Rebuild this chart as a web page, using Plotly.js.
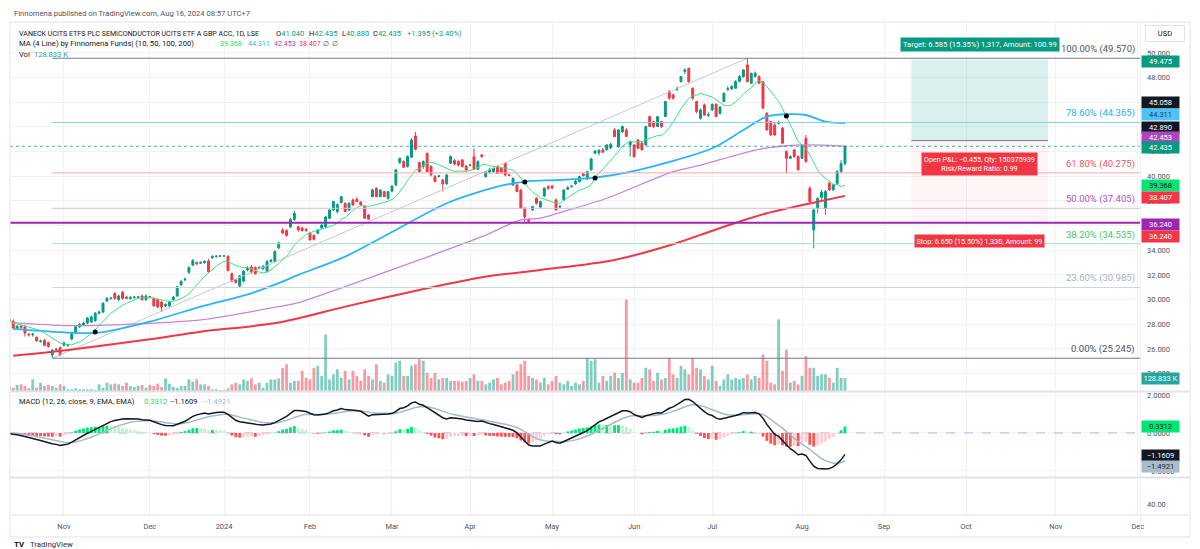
<!DOCTYPE html>
<html><head><meta charset="utf-8">
<script src="https://cdn.plot.ly/plotly-3.0.1.min.js"></script>
<style>html,body{margin:0;padding:0;background:#fff;}#chart{width:1200px;height:549px;}</style>
</head><body><div id="chart"></div>
<script>
// ---------------- DATA ----------------
const startDate = '2023-10-11';
const holidays = ['2023-12-25','2023-12-26','2024-01-01','2024-03-29','2024-04-01','2024-05-06','2024-05-27','2024-08-26','2024-12-25','2024-12-26'];
const monthNames = ['Jan','Feb','Mar','Apr','May','Jun','Jul','Aug','Sep','Oct','Nov','Dec'];
const priceTicks = [24,26,28,30,32,34,36,38,40,42,44,46,48,50];

const opens = [
28.5,28.4,28.25,27.7,27.85,27.8,27.2,27.15,26.95,26.6,
26.7,26.5,25.5,25.95,26.1,26.3,26.3,26.8,27.3,27.8,
27.95,28.1,28.2,28.3,28.9,29.0,29.9,30.1,30.5,30.0,
30.6,30.2,30.1,30.15,30.2,30.3,30.0,30.25,30.1,30.0,
29.8,29.5,29.5,30.0,30.3,31.2,31.6,32.2,32.8,33.0,
32.95,33.0,33.13,33.4,33.5,33.52,33.54,33.5,32.1,31.6,
31.1,31.5,32.4,32.64,32.6,32.55,32.5,32.3,33.1,33.1,
34.2,35.65,35.6,35.9,36.5,35.9,35.8,35.7,35.38,35.2,
35.38,35.8,35.9,36.6,37.27,37.14,37.87,37.81,37.27,38.08,
38.14,37.9,37.54,36.87,38.35,39.03,38.35,38.76,38.22,38.8,
39.3,41.11,41.19,40.8,41.54,43.27,41.11,40.8,41.87,40.8,
39.97,40.0,39.7,39.4,41.06,41.27,41.19,41.33,40.84,40.9,
41.6,40.57,41.73,39.97,40.3,40.38,40.8,40.65,41.06,40.1,
39.3,39.3,38.89,37.41,36.5,37.27,38.22,37.5,38.41,39.16,
39.2,38.08,37.5,38.08,38.95,39.15,39.4,39.57,40.2,39.78,
40.52,41.87,41.9,42.14,42.14,42.3,43.76,42.41,43.6,43.76,
42.54,42.54,42.95,42.68,42.54,44.84,44.43,44.03,44.43,44.84,
46.87,46.6,47.05,47.68,48.5,48.76,47.14,46.06,44.7,45.79,
44.95,45.38,45.84,45.1,46.06,47.05,47.1,47.14,47.7,48.08,
49.03,47.54,48.1,48.08,47.68,45.11,44.43,44.16,44.3,43.89,
42.0,41.46,42.14,41.6,41.46,43.08,39.03,35.65,37.4,38.3,
37.4,39.43,38.9,39.43,40.4,41.04];
const highs = [
28.7,28.5,28.4,27.9,27.95,27.9,27.3,27.3,27.0,26.75,
26.8,26.6,26.0,26.1,26.2,26.6,26.4,27.4,27.9,28.1,
28.2,28.6,28.7,29.0,29.1,29.8,30.2,30.2,30.6,30.4,
30.7,30.3,30.3,30.3,30.3,30.4,30.4,30.3,30.2,30.1,
29.9,29.7,29.9,30.3,31.1,31.6,31.8,32.7,33.3,33.1,
33.1,33.2,33.3,33.6,33.6,33.6,33.6,33.6,32.2,31.7,
32.0,32.4,32.7,32.8,32.7,32.7,32.8,33.2,33.3,34.0,
34.7,35.8,35.7,36.6,37.2,36.0,35.9,35.8,35.5,35.3,
35.7,36.1,36.8,37.3,38.0,37.8,38.4,37.9,37.9,38.2,
38.3,38.0,37.6,36.9,39.0,39.1,38.95,38.8,38.8,39.3,
40.6,41.5,41.3,41.7,43.1,43.6,41.2,41.3,41.9,40.9,
40.1,40.1,39.8,40.2,41.7,41.4,41.3,41.4,40.9,41.0,
42.27,41.3,41.8,40.4,40.7,40.7,40.9,40.7,41.1,40.2,
39.9,39.4,38.95,37.5,36.6,37.6,38.3,38.0,39.1,39.3,
39.3,38.2,37.7,38.95,39.2,39.3,39.7,40.0,40.3,40.45,
41.5,42.1,42.2,42.3,42.6,42.7,43.9,43.8,44.1,43.9,
42.9,42.6,43.0,42.8,44.1,44.9,44.5,44.9,44.5,46.1,
47.0,46.7,47.3,48.1,48.76,48.8,47.2,46.1,45.5,45.9,
45.2,45.9,45.9,45.7,46.8,47.3,47.4,47.8,48.2,48.7,
49.57,48.4,48.5,48.2,47.7,45.2,44.5,44.3,44.5,44.0,
42.1,41.7,42.2,41.7,42.6,43.35,39.2,37.4,38.3,38.9,
38.9,39.6,39.4,40.5,41.3,42.435];
const lows = [
28.2,28.1,27.6,27.6,27.6,27.0,27.0,27.0,26.6,26.5,
26.2,26.1,25.245,25.8,25.4,26.2,26.15,26.7,27.2,27.7,
27.85,28.0,28.1,28.2,28.8,28.9,29.8,30.0,30.0,29.9,
30.0,30.05,30.0,30.1,30.1,29.9,29.9,30.1,29.4,29.3,
29.0,29.4,29.4,29.9,30.2,31.1,31.5,32.1,32.7,32.8,
32.9,32.9,32.2,33.3,33.4,33.45,33.45,32.3,31.4,31.3,
31.0,31.4,32.3,32.1,32.0,32.5,32.4,32.2,33.0,33.0,
34.1,35.3,35.1,35.8,36.4,35.5,35.5,35.5,34.8,34.8,
35.3,35.7,35.8,36.5,37.2,37.0,37.8,37.1,37.2,37.6,
37.9,37.6,36.55,36.5,38.3,38.3,38.3,38.3,38.1,38.7,
39.2,41.0,40.7,40.7,41.5,42.1,40.3,40.6,40.3,40.0,
39.5,39.9,38.76,39.3,41.0,40.9,40.8,40.7,40.4,40.8,
40.5,40.5,41.5,39.9,40.2,40.3,40.2,40.2,40.0,40.0,
39.2,38.7,37.4,36.19,36.2,37.2,37.7,37.4,38.3,38.9,
38.95,37.19,37.4,38.0,38.9,39.1,39.3,39.5,40.0,39.7,
40.45,41.8,41.7,41.9,42.1,42.2,43.2,42.3,43.5,43.2,
41.6,41.5,42.2,42.1,42.5,44.0,43.9,44.0,43.9,44.8,
46.2,46.2,46.9,47.6,48.3,47.6,46.2,45.1,44.6,44.9,
44.8,45.3,44.8,45.0,46.0,46.9,47.0,47.1,47.6,48.0,
47.6,47.5,48.0,47.5,45.5,43.7,43.3,43.3,44.2,42.6,
40.25,41.4,41.5,40.5,41.4,41.1,37.8,34.16,37.0,38.1,
36.9,38.8,38.8,39.3,40.25,40.88];
const closes = [
28.4,28.2,27.7,27.85,27.75,27.3,27.15,27.2,26.65,26.65,
26.3,26.2,25.9,25.97,25.5,26.5,26.35,27.3,27.8,28.0,
28.1,28.5,28.6,28.9,29.0,29.7,30.1,30.12,30.1,30.3,
30.1,30.1,30.15,30.2,30.22,30.0,30.3,30.24,29.5,29.4,
29.4,29.6,29.8,30.2,31.05,31.46,31.65,32.6,33.16,32.9,
33.0,33.1,32.27,33.5,33.52,33.54,33.54,32.35,31.5,31.4,
31.9,32.3,32.5,32.2,32.1,32.6,32.7,33.1,33.2,33.9,
34.6,35.4,35.2,36.5,37.0,35.65,35.6,35.6,34.84,34.9,
35.65,36.05,36.7,37.27,37.95,37.7,38.35,37.14,37.81,37.68,
37.95,37.7,36.6,36.52,38.89,38.35,38.89,38.35,38.76,39.2,
40.52,41.46,40.73,41.6,42.95,42.19,40.38,41.19,40.38,40.11,
39.57,40.02,39.38,40.1,41.6,41.0,40.92,40.8,40.52,40.92,
40.57,41.19,41.6,40.38,40.57,40.65,40.25,40.3,40.11,40.08,
39.84,38.76,37.41,36.73,36.35,37.54,37.81,37.95,39.03,39.03,
39.05,37.27,37.55,38.89,39.08,39.2,39.6,39.97,40.05,40.38,
41.41,42.06,42.1,41.95,42.54,42.6,43.22,43.76,44.03,43.22,
42.8,41.6,42.27,42.14,44.03,44.03,44.03,44.84,44.03,46.06,
46.33,46.33,47.1,48.08,48.62,47.68,46.33,45.25,45.38,44.97,
45.0,45.84,44.84,45.6,46.73,47.1,47.27,47.68,48.1,48.62,
47.68,48.35,48.35,47.54,45.52,43.76,43.35,43.35,44.35,42.68,
41.46,41.6,41.6,40.52,42.54,41.19,37.95,37.27,38.2,38.7,
38.76,38.9,39.3,40.38,41.04,42.435];
const volumesK = [
40,50,33,60,66,50,26,115,33,82,
50,60,50,33,66,50,17,17,26,17,
17,17,17,10,66,33,82,66,73,66,
50,82,50,40,50,60,33,60,50,73,
40,125,73,40,33,50,50,115,92,115,
66,66,50,17,17,10,10,26,66,82,
66,115,100,125,66,82,33,82,115,115,
125,230,265,82,100,100,200,130,115,230,
250,150,560,115,165,215,130,200,115,200,
150,100,215,150,115,265,100,83,165,150,
280,300,150,150,250,265,315,300,180,130,
180,115,130,130,100,100,100,92,100,130,
165,100,100,66,83,115,130,66,83,100,
165,200,265,300,150,130,115,83,130,66,
100,150,83,66,100,50,83,66,100,330,
300,315,83,150,100,150,180,130,180,905,
115,83,83,130,230,215,100,180,115,130,
330,165,130,250,215,165,330,230,215,150,
115,250,100,50,115,165,115,130,115,130,
165,115,150,130,360,300,83,66,710,200,
410,83,100,66,150,345,230,230,150,165,
165,130,83,230,130,128.833];

// moving averages (bar index, value)
const ma50Idx = [2,16,24,37,50,63,70,75,87,100,113,126,133,142,151,162,181,189,195,200,205,210,215];
const ma50Val = [27.62,27.32,27.32,28.21,29.43,30.51,31.33,32.0,33.49,35.65,37.81,39.16,39.57,39.7,39.9,40.5,42.27,43.76,44.84,45.03,44.97,44.43,44.31];
const ma100Idx = [2,16,37,50,70,75,87,106,122,132,137,142,154,171,178,193,204,215];
const ma100Val = [28.13,27.89,28.08,28.35,29.43,29.75,31.06,33.22,35.1,36.46,36.6,37.06,38.22,40.38,40.9,42.19,42.54,42.45];
const ma200Idx = [2,16,37,50,70,87,106,122,137,156,171,178,188,195,206,215];
const ma200Val = [25.45,25.92,26.78,27.4,28.14,29.43,30.78,31.81,32.4,33.22,34.49,35.25,36.33,37.0,37.8,38.41];
const crossIdx = [23,133,151,200];
const crossPrice = [27.37,39.54,39.86,44.89];

// fibonacci retracement
const fibLevelText = ['0.00%','23.60%','38.20%','50.00%','61.80%','78.60%','100.00%'];
const fibPrices = [25.245,30.985,34.535,37.405,40.275,44.365,49.570];
const fibAnchorIdx = [12,190];
const fibAnchorPrice = [25.245,49.570];

// long position tool & horizontal line
const posIdx = [232,267];
const posEntry = 42.890, posTarget = 49.475, posStop = 36.240;
const supportLevel = 36.240;
const targetText = 'Target: 6.585 (15.35%) 1,317, Amount: 100.99';
const pnlText = 'Open P&amp;L: \u22120.455, Qty: 150375939<br>Risk/Reward Ratio: 0.99';
const stopText = 'Stop: 6.650 (15.50%) 1,330, Amount: 99';

// legend texts
const titleText = 'VANECK UCITS ETFS PLC SEMICONDUCTOR UCITS ETF A GBP ACC, 1D, LSE';
const maLegendText = 'MA (4 Line) by Finnomena Funds| (10, 50, 100, 200)';
const maLegendVals = ['39.368','44.311','42.453','38.407'];
const macdLegendText = 'MACD (12, 26, close, 9, EMA, EMA)';
const macdLegendVals = ['0.3312','\u22121.1609','\u22121.4921'];
const volLegendVal = '128.833 K';

// ---------------- BUILD ----------------
const F = 'Roboto, "Liberation Sans", Arial, sans-serif';
const TXT = '#131722', UP = '#089981', DN = '#f23645';
const PL = 10, PR = 1140, PT = 22, PB = 515;
const W = PR - PL, H = PB - PT;
const pxX = px => (px - PL) / W;
const pxY = py => (PB - py) / H;
const xLeft = 1.18, xRight = 290.55;

const N = closes.length;
const idx = closes.map((_, i) => i);

function tradingDays(start, count) {
  const out = [];
  const d = new Date(start + 'T00:00:00Z');
  while (out.length < count) {
    const dow = d.getUTCDay();
    const iso = d.toISOString().slice(0, 10);
    if (dow !== 0 && dow !== 6 && holidays.indexOf(iso) < 0) out.push(iso);
    d.setUTCDate(d.getUTCDate() + 1);
  }
  return out;
}
const days = tradingDays(startDate, 320);
const tickVals = [], tickText = [];
for (let i = 1; i < days.length; i++) {
  if (days[i].slice(5, 7) !== days[i - 1].slice(5, 7) && i >= xLeft && i <= xRight) {
    const m = +days[i].slice(5, 7);
    tickVals.push(i);
    tickText.push(m === 1 ? days[i].slice(0, 4) : monthNames[m - 1]);
  }
}

// MA10 from closes
const ma10 = closes.map((c, i) => {
  const w = closes.slice(Math.max(0, i - 9), i + 1);
  return w.reduce((a, b) => a + b, 0) / w.length;
});
// MACD from closes
function ema(arr, n) { const a = 2 / (n + 1); const o = [arr[0]]; for (let i = 1; i < arr.length; i++) o.push(a * arr[i] + (1 - a) * o[i - 1]); return o; }
const e12 = ema(closes, 12), e26 = ema(closes, 26);
const macd = e12.map((v, i) => v - e26[i]);
const sig = ema(macd, 9);
const hist = macd.map((v, i) => v - sig[i]);
const histColors = hist.map((h, i) => {
  const p = i > 0 ? hist[i - 1] : 0;
  if (h >= 0) return h >= p ? '#00e676' : '#b9f6ca';
  return h <= p ? '#ff5252' : '#ffcdd2';
});
const volColors = closes.map((c, i) => c >= opens[i] ? 'rgba(8,153,129,0.5)' : 'rgba(242,54,69,0.5)');

const traces = [
  {type: 'scatter', mode: 'lines', x: fibAnchorIdx, y: fibAnchorPrice, xaxis: 'x', yaxis: 'y', line: {color: '#c5c8cf', width: 1}, hoverinfo: 'skip'},
  {type: 'scatter', mode: 'lines', x: ma200Idx, y: ma200Val, xaxis: 'x', yaxis: 'y', line: {color: '#f23645', width: 2, shape: 'spline', smoothing: 0.8}, hoverinfo: 'skip'},
  {type: 'scatter', mode: 'lines', x: ma100Idx, y: ma100Val, xaxis: 'x', yaxis: 'y', line: {color: '#c785d8', width: 1.3, shape: 'spline', smoothing: 0.8}, hoverinfo: 'skip'},
  {type: 'scatter', mode: 'lines', x: ma50Idx, y: ma50Val, xaxis: 'x', yaxis: 'y', line: {color: '#29b6f6', width: 1.8, shape: 'spline', smoothing: 0.8}, hoverinfo: 'skip'},
  {type: 'candlestick', x: idx, open: opens, high: highs, low: lows, close: closes, xaxis: 'x', yaxis: 'y',
    increasing: {line: {color: UP, width: 1}, fillcolor: UP}, decreasing: {line: {color: DN, width: 1}, fillcolor: DN},
    whiskerwidth: 0, hoverinfo: 'skip'},
  {type: 'scatter', mode: 'lines', x: idx, y: ma10, xaxis: 'x', yaxis: 'y', line: {color: '#3ee07f', width: 1}, hoverinfo: 'skip'},
  {type: 'scatter', mode: 'markers', x: crossIdx, y: crossPrice, xaxis: 'x', yaxis: 'y', marker: {color: '#000', size: 5}, hoverinfo: 'skip'},
  {type: 'bar', x: idx, y: volumesK, xaxis: 'x', yaxis: 'y4', marker: {color: volColors, line: {width: 0}}, width: 0.72, hoverinfo: 'skip'},
  {type: 'bar', x: idx, y: hist, xaxis: 'x', yaxis: 'y2', marker: {color: histColors, line: {width: 0}}, width: 0.72, hoverinfo: 'skip'},
  {type: 'scatter', mode: 'lines', x: idx, y: sig, xaxis: 'x', yaxis: 'y2', line: {color: '#a5bac8', width: 1.5}, hoverinfo: 'skip'},
  {type: 'scatter', mode: 'lines', x: idx, y: macd, xaxis: 'x', yaxis: 'y2', line: {color: '#131722', width: 1.5}, hoverinfo: 'skip'},
  // empty series that only creates the bottom (third) pane so the time axis sits under it
  {type: 'scatter', mode: 'lines', x: [xLeft], y: [null], xaxis: 'x', yaxis: 'y3', hoverinfo: 'skip', showlegend: false}
];

const fibLineColors = ['#787b86', '#cdd6db', '#a9e2b5', '#dcb8e6', '#f8a9ae', '#7fd0ea', '#787b86'];
const fibTextColors = ['#50535e', '#9fb4c1', '#3fc66b', '#b150c8', '#f05560', '#2bb0e0', '#50535e'];

const shapes = [];
shapes.push({type: 'rect', xref: 'x', yref: 'y', x0: posIdx[0], x1: posIdx[1], y0: posEntry, y1: posTarget, fillcolor: 'rgba(8,153,129,0.15)', line: {width: 0}, layer: 'between'});
shapes.push({type: 'rect', xref: 'x', yref: 'y', x0: posIdx[0], x1: posIdx[1], y0: posStop, y1: posEntry, fillcolor: 'rgba(242,54,69,0.05)', line: {width: 0}, layer: 'between'});
shapes.push({type: 'line', xref: 'x', yref: 'y', x0: posIdx[0], x1: posIdx[1], y0: posEntry, y1: posEntry, line: {color: '#787b86', width: 1}, layer: 'above'});
fibPrices.forEach((p, i) => shapes.push({type: 'line', xref: 'x', yref: 'y', x0: fibAnchorIdx[0], x1: xRight, y0: p, y1: p, line: {color: fibLineColors[i], width: 1}, layer: 'above'}));
shapes.push({type: 'line', xref: 'x', yref: 'y', x0: xLeft, x1: xRight, y0: supportLevel, y1: supportLevel, line: {color: '#9c27b0', width: 2}, layer: 'above'});
shapes.push({type: 'line', xref: 'x', yref: 'y', x0: xLeft, x1: xRight, y0: closes[N - 1], y1: closes[N - 1], line: {color: 'rgba(8,153,129,0.75)', width: 1, dash: 'dot'}, layer: 'above'});
shapes.push({type: 'line', xref: 'x', yref: 'y2', x0: xLeft, x1: xRight, y0: 0, y1: 0, line: {color: '#d6a7e0', width: 1, dash: 'dash'}, layer: 'between'});
shapes.push({type: 'rect', xref: 'paper', yref: 'paper', x0: 0, x1: pxX(1190), y0: pxY(537), y1: 1, line: {color: '#e0e3eb', width: 1}, fillcolor: 'rgba(0,0,0,0)'});
[391.5, 477.5, 515].forEach(py => shapes.push({type: 'line', xref: 'paper', yref: 'paper', x0: 0, x1: pxX(1190), y0: pxY(py), y1: pxY(py), line: {color: '#e0e3eb', width: py === 515 ? 1 : 2}}));
shapes.push({type: 'line', xref: 'paper', yref: 'paper', x0: pxX(1140.5), x1: pxX(1140.5), y0: pxY(537), y1: 1, line: {color: '#eef0f3', width: 1}});

const ann = [];
function T(text, px, py, color, size, extra) {
  return Object.assign({xref: 'paper', yref: 'paper', x: pxX(px), y: pxY(py), xanchor: 'left', yanchor: 'middle', showarrow: false, text: text, font: {family: F, size: size || 7.5, color: color || TXT}}, extra || {});
}
ann.push(T('Finnomena published on TradingView.com, Aug 16, 2024 08:57 UTC+7', 12, 14, '#50535e', 7.6));
ann.push(T(titleText, 17, 33.5, TXT, 7.1));
const last = N - 1;
const chg = closes[last] - closes[last - 1];
ann.push(T('O<span style="color:#089981">' + opens[last].toFixed(3) + '</span>', 274, 33.5));
ann.push(T('H<span style="color:#089981">' + highs[last].toFixed(3) + '</span>', 307, 33.5));
ann.push(T('L<span style="color:#089981">' + lows[last].toFixed(3) + '</span>', 340, 33.5));
ann.push(T('C<span style="color:#089981">' + closes[last].toFixed(3) + '</span>', 371, 33.5));
ann.push(T('+' + chg.toFixed(3) + ' (+' + (chg / closes[last - 1] * 100).toFixed(2) + '%)', 405, 33.5, UP));
ann.push(T(maLegendText, 17, 43.5, TXT, 7.7));
const maLegColors = ['#00e676', '#29b6f6', '#ab47bc', '#f23645'];
[218, 246, 272, 297].forEach((px, i) => ann.push(T(maLegendVals[i], px, 43.5, maLegColors[i], 7.1)));
ann.push(T('\u2205', 321, 43.5, '#50535e', 7));
ann.push(T('\u2205', 330, 43.5, '#50535e', 7));
ann.push(T('Vol', 17, 54, TXT));
ann.push(T(volLegendVal, 32, 54, '#26a69a'));
ann.push(T(macdLegendText, 17, 401, TXT));
ann.push(T(macdLegendVals[0], 142, 401, '#00e676'));
ann.push(T(macdLegendVals[1], 168, 401, TXT));
ann.push(T(macdLegendVals[2], 201, 401, '#a5bac8'));
ann.push(T('<b>TV</b>', 12, 544, TXT, 8));
ann.push(T('TradingView', 28, 544, '#2a2e39', 7.8));
ann.push({xref: 'paper', yref: 'paper', x: pxX(1165), y: pxY(33.5), xanchor: 'center', yanchor: 'middle', showarrow: false, text: 'USD', font: {family: F, size: 7.5, color: TXT}, bgcolor: '#fff', bordercolor: '#e0e3eb', borderwidth: 1, width: 36, height: 13});

fibPrices.forEach((p, i) => ann.push({xref: 'paper', yref: 'y', x: pxX(1137), y: p, xanchor: 'right', yanchor: 'bottom', yshift: 1, showarrow: false,
  text: fibLevelText[i] + ' (' + p.toFixed(3) + ')', font: {family: F, size: 9.5, color: fibTextColors[i]}}));

const posMid = (posIdx[0] + posIdx[1]) / 2;
ann.push({xref: 'x', yref: 'y', x: posMid, y: posTarget, xanchor: 'center', yanchor: 'bottom', yshift: 7, showarrow: false, text: targetText, bgcolor: '#089981', borderpad: 2, font: {family: F, size: 7.6, color: '#fff'}});
ann.push({xref: 'x', yref: 'y', x: posMid, y: posEntry, xanchor: 'center', yanchor: 'top', yshift: -11, showarrow: false, text: pnlText, align: 'center', bgcolor: '#f23645', borderpad: 2, font: {family: F, size: 7.2, color: '#fff'}});
ann.push({xref: 'x', yref: 'y', x: posMid, y: posStop, xanchor: 'center', yanchor: 'top', yshift: -11, showarrow: false, text: stopText, bgcolor: '#f23645', borderpad: 1.5, font: {family: F, size: 7.2, color: '#fff'}});

const tags = [
  ['49.475', posTarget, 'y', -2.5, '#089981', '#fff'],
  ['45.058', crossPrice[3] + 0.168, 'y', 11, '#131722', '#fff'],
  [maLegendVals[1], 44.311, 'y', 8.6, '#4fc3f7', '#1c3b57'],
  [posEntry.toFixed(3), posEntry, 'y', 12.7, '#131722', '#fff'],
  [maLegendVals[2], 42.453, 'y', 9, '#ab47bc', '#fff'],
  [closes[last].toFixed(3), closes[last], 'y', -1, '#089981', '#fff'],
  [maLegendVals[0], 39.368, 'y', -1, '#00e676', '#131722'],
  [maLegendVals[3], 38.407, 'y', -1.4, '#f23645', '#fff'],
  [supportLevel.toFixed(3), supportLevel, 'y', -1.4, '#9c27b0', '#fff'],
  [posStop.toFixed(3), posStop, 'y', -13.4, '#f23645', '#fff'],
  [volLegendVal, volumesK[last], 'y4', 0, '#26a69a', '#fff'],
  [macdLegendVals[0], 0.3312, 'y2', 0, '#00e676', '#131722'],
  [macdLegendVals[1], -1.1609, 'y2', 0, '#131722', '#fff'],
  [macdLegendVals[2], -1.4921, 'y2', -5, '#a9bccb', '#1e222d']
];
tags.forEach(t => ann.push({xref: 'paper', yref: t[2], x: pxX(1141), y: t[1], xanchor: 'left', yanchor: 'middle', yshift: t[3], showarrow: false,
  text: t[0], bgcolor: t[4], font: {family: F, size: 7.5, color: t[5]}, width: 37, height: 11, borderpad: 0, align: 'center'}));

const axisFont = {family: F, size: 7.5, color: '#50535e'};
const layout = {
  width: 1200, height: 549,
  margin: {l: PL, r: 1200 - PR, t: PT, b: 549 - PB, pad: 0},
  paper_bgcolor: '#fff', plot_bgcolor: '#fff',
  showlegend: false, hovermode: false, dragmode: false, barmode: 'overlay',
  font: {family: F, size: 7.5, color: TXT},
  xaxis: {domain: [0, 1], range: [xLeft, xRight], anchor: 'y3', tickmode: 'array', tickvals: tickVals, ticktext: tickText,
    showgrid: true, gridcolor: '#f0f2f6', gridwidth: 1, zeroline: false, showline: false, ticks: '', tickfont: axisFont,
    rangeslider: {visible: false}, fixedrange: true, ticklabelstandoff: 5},
  yaxis: {domain: [pxY(391), 1], range: [22.59, 52.51], side: 'right', anchor: 'x', tickmode: 'array', tickvals: priceTicks, tickformat: '.3f',
    showgrid: true, gridcolor: '#f0f2f6', zeroline: false, showline: false, ticks: '', tickfont: axisFont, fixedrange: true, ticklabelstandoff: 6},
  yaxis4: {overlaying: 'y', anchor: 'x', side: 'right', range: [0, 3657], visible: false, showgrid: false, zeroline: false, fixedrange: true},
  yaxis2: {domain: [pxY(477), pxY(392)], range: [-2.32, 2.16], side: 'right', anchor: 'x', tickmode: 'array', tickvals: [-2, 0, 2], tickformat: '.4f',
    showgrid: true, gridcolor: '#f3f4f7', zeroline: false, showline: false, ticks: '', tickfont: axisFont, fixedrange: true, ticklabelstandoff: 6},
  yaxis3: {domain: [0, pxY(478)], range: [30, 63.6], side: 'right', anchor: 'x', tickmode: 'array', tickvals: [40], ticktext: ['40.00'],
    showgrid: false, zeroline: false, showline: false, ticks: '', tickfont: axisFont, fixedrange: true, ticklabelstandoff: 6},
  shapes: shapes,
  annotations: ann
};
Plotly.newPlot('chart', traces, layout, {staticPlot: true, displayModeBar: false});
</script>
</body></html>
